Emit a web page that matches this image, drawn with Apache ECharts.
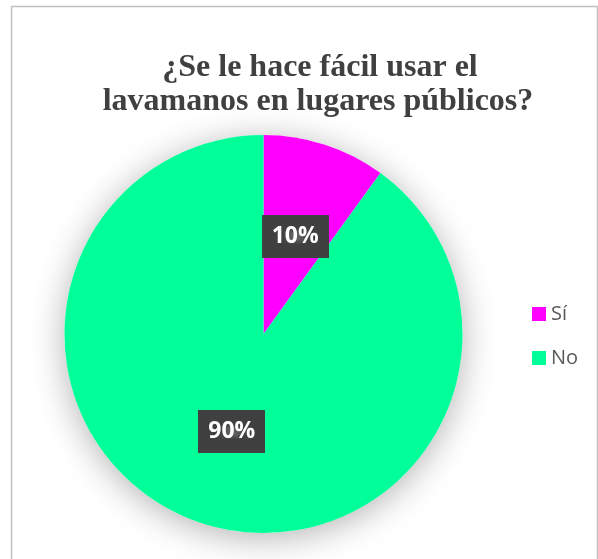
<!DOCTYPE html>
<html>
<head>
<meta charset="utf-8">
<script src="https://cdn.jsdelivr.net/npm/echarts@6/dist/echarts.min.js"></script>
<style>html,body{margin:0;padding:0;background:#fff;}#c{width:598px;height:559px;}</style>
</head>
<body>
<div id="c"></div>
<script>
const titleLines = ['¿Se le hace fácil usar el', 'lavamanos en lugares públicos?'];
const categories = ['Sí', 'No'];
const values = [10, 90];
const colors = ['#FF00FF', '#00FF99'];

// dotted pattern for label boxes
const tile = document.createElement('canvas');
tile.width = 8; tile.height = 8;
const tctx = tile.getContext('2d');
tctx.fillStyle = '#404040'; tctx.fillRect(0, 0, 8, 8);
tctx.fillStyle = '#5e5e5e'; tctx.fillRect(3, 3, 2, 2);

const chart = echarts.init(document.getElementById('c'), null, {renderer: 'canvas'});
const total = values.reduce((a, b) => a + b, 0);
const center = [263.5, 334];
const radius = 199;
const titleStyle = {fontFamily: 'Liberation Serif', fontWeight: 'bold', fontSize: 32, color: '#404040'};

chart.setOption({
  backgroundColor: '#ffffff',
  animation: false,
  title: [
    {text: titleLines[0], left: 315, top: 47, textAlign: 'center', textStyle: titleStyle},
    {text: titleLines[1], left: 313, top: 81, textAlign: 'center', textStyle: titleStyle}
  ],
  legend: {
    orient: 'vertical', left: 527, top: 298,
    itemWidth: 14, itemHeight: 14, itemGap: 22,
    icon: 'rect',
    data: categories,
    textStyle: {fontFamily: 'Open Sans', fontSize: 20, color: '#595959', lineHeight: 22}
  },
  graphic: [{
    type: 'rect', silent: true, z: -10,
    shape: {x: 11.5, y: 6.5, width: 586, height: 570},
    style: {fill: '#ffffff', stroke: '#c0c0c0', lineWidth: 1.5}
  }],
  series: [
    {
      type: 'pie', silent: true, center: center, radius: radius, z: 1,
      label: {show: false}, labelLine: {show: false},
      data: [{value: total, name: '_bg', itemStyle: {color: '#ffffff', shadowBlur: 34, shadowColor: 'rgba(0,0,0,0.3)', shadowOffsetY: 5}}],
      tooltip: {show: false}
    },
    {
      type: 'pie', center: center, radius: radius, startAngle: 90, clockwise: true, z: 2,
      data: categories.map((c, i) => ({name: c, value: values[i], itemStyle: {color: colors[i]}})),
      label: {
        show: true, position: 'inside',
        formatter: p => p.value + '%',
        fontFamily: 'Open Sans', fontWeight: 'bold', fontSize: 23, lineHeight: 23, color: '#ffffff',
        backgroundColor: {image: tile, repeat: 'repeat'},
        padding: [11, 10, 9, 10],
        shadowBlur: 6, shadowColor: 'rgba(0,0,0,0.45)', shadowOffsetX: 3, shadowOffsetY: 3
      },
      labelLine: {show: false}
    }
  ]
});
</script>
</body>
</html>
